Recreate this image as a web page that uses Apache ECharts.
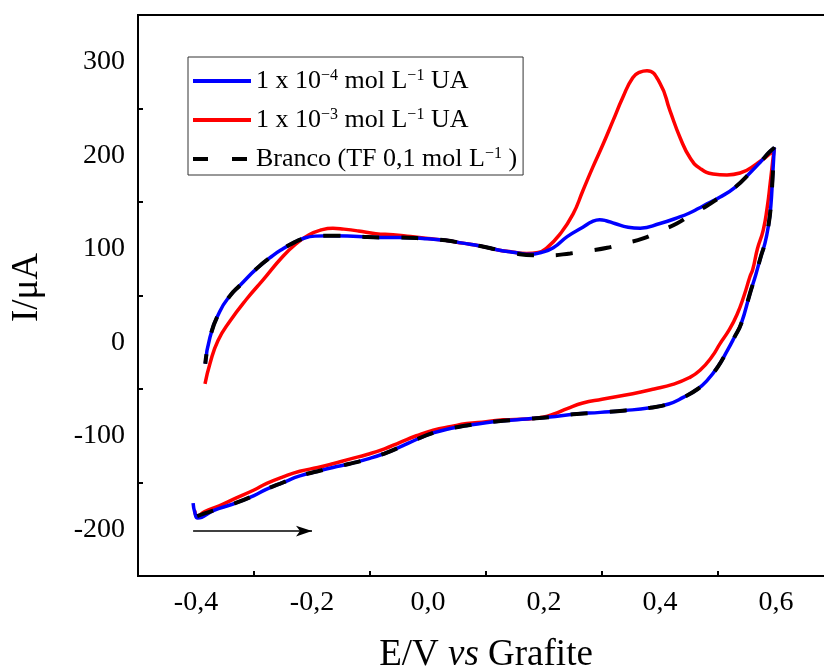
<!DOCTYPE html>
<html>
<head>
<meta charset="utf-8">
<script src="https://cdn.jsdelivr.net/npm/echarts@6/dist/echarts.min.js"></script>
<style>
html,body{margin:0;padding:0;background:#fff;}
#chart{width:824px;height:668px;}
</style>
</head>
<body>
<div id="chart"></div>
<script>
// ---- Data (E in V vs graphite, I in µA) ----
const seriesNames = ['1 x 10⁻⁴ mol L⁻¹ UA', '1 x 10⁻³ mol L⁻¹ UA', 'Branco (TF 0,1 mol L⁻¹ )'];
const legendRich = ['1 x 10{s|−4} mol L{s|−1} UA', '1 x 10{s|−3} mol L{s|−1} UA', 'Branco (TF 0,1 mol L{s|−1} )'];

const blueE = [-0.405, -0.402, -0.397, -0.37, -0.336, -0.30, -0.278, -0.25, -0.221, -0.19, -0.164, -0.135, -0.105, -0.075, -0.048, -0.02, 0.009, 0.04, 0.067, 0.10, 0.13, 0.17, 0.21, 0.25, 0.297, 0.34, 0.383, 0.415, 0.44, 0.465, 0.481, 0.50, 0.516, 0.528, 0.54, 0.555, 0.565, 0.574, 0.581, 0.587, 0.591, 0.594, 0.597,
  0.588, 0.575, 0.555, 0.53, 0.503, 0.481, 0.466, 0.45, 0.434, 0.40, 0.366, 0.345, 0.322, 0.307, 0.296, 0.283, 0.267, 0.24, 0.216, 0.195, 0.176, 0.15, 0.119, 0.09, 0.06, 0.03, -0.009, -0.05, -0.083, -0.12, -0.169, -0.195, -0.215, -0.233, -0.25, -0.267, -0.295, -0.324, -0.341, -0.359, -0.376, -0.384];
const blueI = [-172, -182, -188, -180, -173, -164, -157, -150, -143, -138, -134, -130, -125, -119, -112, -104, -97, -92, -89, -86, -84, -82, -80, -77, -75, -73, -70, -66, -59, -50, -41, -26, -9, 5, 20, 52, 72, 92, 106, 125, 145, 175, 208,
  203, 194, 181, 166, 155, 148, 143, 138, 134, 127, 122, 123, 127, 130, 131, 129, 123, 113, 101, 96, 94, 96, 99, 103, 106, 109, 111, 112, 112, 113, 114, 113.5, 111, 106, 100, 93, 79, 61, 50, 33, 5, -23];

const redE = [-0.402, -0.398, -0.385, -0.36, -0.336, -0.30, -0.278, -0.25, -0.221, -0.19, -0.164, -0.135, -0.105, -0.075, -0.048, -0.02, 0.009, 0.04, 0.067, 0.10, 0.13, 0.17, 0.20, 0.216, 0.24, 0.267, 0.30, 0.353, 0.39, 0.422, 0.45, 0.469, 0.49, 0.503, 0.52, 0.533, 0.545, 0.555, 0.56, 0.568, 0.578, 0.585, 0.59, 0.594, 0.597,
  0.59, 0.567, 0.538, 0.5155, 0.4914, 0.469, 0.452, 0.4345, 0.417, 0.40, 0.3776, 0.3655, 0.353, 0.336, 0.319, 0.302, 0.284, 0.267, 0.25, 0.228, 0.205, 0.19, 0.17, 0.14, 0.119, 0.09, 0.06, 0.03, 0.0, -0.03, -0.06, -0.09, -0.12, -0.145, -0.164, -0.185, -0.205, -0.226, -0.25, -0.284, -0.313, -0.341, -0.362, -0.376, -0.3845];
const redI = [-180, -186, -181, -175, -168, -158, -151, -144, -138, -134, -130, -125, -120, -114, -107, -100, -94, -90, -87, -85, -83, -82, -80, -77, -71, -65, -61, -55, -50, -45, -38, -30, -15, -2, 14, 30, 50, 70, 78, 100, 120, 145, 170, 192, 208,
  202, 191, 181, 179, 180, 186, 197, 219, 248, 277, 290.5, 289, 283, 262, 237, 212, 187, 162, 137, 116, 101, 96, 95, 97, 99, 103, 106, 109, 111, 113, 115, 116, 119, 121, 122, 120, 115, 106, 92, 67, 46, 23, 2, -23, -44.6];

const blankE = [-0.398, -0.385, -0.37, -0.336, -0.30, -0.278, -0.25, -0.221, -0.19, -0.164, -0.135, -0.105, -0.075, -0.048, -0.02, 0.009, 0.04, 0.067, 0.10, 0.13, 0.17, 0.21, 0.25, 0.297, 0.34, 0.383, 0.415, 0.44, 0.465, 0.481, 0.50, 0.516, 0.528, 0.54, 0.555, 0.565, 0.574, 0.581, 0.587, 0.591, 0.594, 0.597,
  0.588, 0.575, 0.555, 0.53, 0.503, 0.481, 0.455, 0.429, 0.40, 0.371, 0.34, 0.309, 0.28, 0.245, 0.21, 0.181, 0.15, 0.119, 0.09, 0.06, 0.03, -0.009, -0.05, -0.083, -0.12, -0.169, -0.195, -0.215, -0.233, -0.25, -0.267, -0.295, -0.324, -0.341, -0.359, -0.376, -0.384];
const blankI = [-186, -183, -180, -173, -164, -157, -150, -143, -138, -134, -130, -125, -119, -112, -104, -97, -92, -89, -86, -84, -82, -80, -77, -75, -73, -70, -66, -59, -50, -41, -26, -9, 5, 20, 52, 72, 92, 106, 125, 145, 175, 208,
  203, 194, 181, 166, 155, 146, 137, 127, 119, 111, 106, 101, 98, 95, 93, 93, 95, 99, 103, 106, 109, 111, 112, 112, 113, 114, 113.5, 111, 106, 100, 93, 79, 61, 50, 33, 5, -23];

// scan-direction arrow (start / end in data coordinates)
const arrowE = [-0.405, -0.20];
const arrowI = [-202, -202];

const xRange = [-0.5, 0.7];
const yRange = [-250, 350];

// ---- Build ----
const zip = (a, b) => a.map((v, i) => [v, b[i]]);
const FONT = "'Liberation Serif','Times New Roman',serif";

const chart = echarts.init(document.getElementById('chart'), null, {renderer: 'canvas'});

const lineBase = {type: 'line', symbol: 'none', showSymbol: false, smooth: 0.5, animation: false, xAxisIndex: 0, yAxisIndex: 0, clip: true};

chart.setOption({
  animation: false,
  backgroundColor: '#fff',
  grid: {left: 138, top: 15, right: -10, bottom: 92, outerBoundsMode: 'none', containLabel: false,
    show: true, borderColor: '#000', borderWidth: 2, backgroundColor: 'transparent'},
  legend: {
    orient: 'vertical', left: 188, top: 57,
    data: [
      {name: seriesNames[0], lineStyle: {width: 4}},
      {name: seriesNames[1], lineStyle: {width: 4}},
      {name: seriesNames[2], lineStyle: {width: 4, type: [15, 24]}}
    ],
    selectedMode: false,
    borderColor: '#333', borderWidth: 1,
    padding: [11, 6, 3, 3],
    itemGap: 13, itemWidth: 58, itemHeight: 14,
    itemStyle: {opacity: 0, borderWidth: 0},
    formatter: function (name) { return legendRich[seriesNames.indexOf(name)]; },
    textStyle: {
      fontFamily: FONT, fontSize: 26, color: '#000',
      rich: {
        s: {fontFamily: FONT, fontSize: 16, color: '#000', verticalAlign: 'top', lineHeight: 15}
      }
    }
  },
  xAxis: [
    {
      type: 'value', min: xRange[0], max: xRange[1], interval: 0.1, position: 'bottom',
      axisLine: {show: true, onZero: false, lineStyle: {color: '#000', width: 2}},
      axisTick: {show: false},
      splitLine: {show: false},
      axisLabel: {
        fontFamily: FONT, fontSize: 28, color: '#000', margin: 13, hideOverlap: false,
        formatter: function (v) { const k = Math.round(v * 10); if (k % 2 !== 0) return ''; return (k / 10).toFixed(1).replace('.', ','); }
      },
      name: '{n|E/V }{i|vs}{n| Grafite}', nameLocation: 'middle', nameGap: 61,
      nameTextStyle: {fontFamily: FONT, fontSize: 37, color: '#000',
        rich: {n: {fontFamily: FONT, fontSize: 37, color: '#000'}, i: {fontFamily: FONT, fontSize: 37, fontStyle: 'italic', color: '#000'}}}
    },
    {
      type: 'value', min: xRange[0], max: xRange[1], interval: 0.2, position: 'bottom',
      axisLine: {show: false, onZero: false},
      axisTick: {show: true, inside: true, length: 5, lineStyle: {color: '#000', width: 2}},
      axisLabel: {show: false}, splitLine: {show: false}
    }
  ],
  yAxis: [
    {
      type: 'value', min: yRange[0], max: yRange[1], interval: 50, position: 'left',
      axisLine: {show: true, onZero: false, lineStyle: {color: '#000', width: 2}},
      axisTick: {show: false},
      splitLine: {show: false},
      axisLabel: {
        fontFamily: FONT, fontSize: 28, color: '#000', margin: 13, hideOverlap: false,
        formatter: function (v) { return (Math.round(v) % 100 === 0) ? String(Math.round(v)) : ''; }
      },
      name: 'I/μA', nameLocation: 'middle', nameGap: 92,
      nameTextStyle: {fontFamily: FONT, fontSize: 37, color: '#000', padding: [0, 0, 0, 16]}
    },
    {
      type: 'value', min: yRange[0], max: yRange[1], interval: 100, position: 'left',
      axisLine: {show: false, onZero: false},
      axisTick: {show: true, inside: true, length: 5, lineStyle: {color: '#000', width: 2}},
      axisLabel: {show: false}, splitLine: {show: false}
    }
  ],
  series: [
    Object.assign({}, lineBase, {name: seriesNames[1], data: zip(redE, redI), z: 2,
      lineStyle: {color: '#ff0000', width: 3.5}, itemStyle: {color: '#ff0000'}}),
    Object.assign({}, lineBase, {name: seriesNames[0], data: zip(blueE, blueI), z: 3,
      lineStyle: {color: '#0000ff', width: 3.5}, itemStyle: {color: '#0000ff'}}),
    Object.assign({}, lineBase, {name: seriesNames[2], data: zip(blankE, blankI), z: 4,
      lineStyle: {color: '#000', width: 4, type: [17, 22]}, itemStyle: {color: '#000'},
      markLine: {
        silent: true, animation: false, symbol: ['none', 'arrow'], symbolSize: [8, 16],
        label: {show: false},
        lineStyle: {color: '#000', width: 1.5, type: 'solid'},
        data: [[{coord: [arrowE[0], arrowI[0]]}, {coord: [arrowE[1], arrowI[1]]}]]
      }})
  ]
});
</script>
</body>
</html>
